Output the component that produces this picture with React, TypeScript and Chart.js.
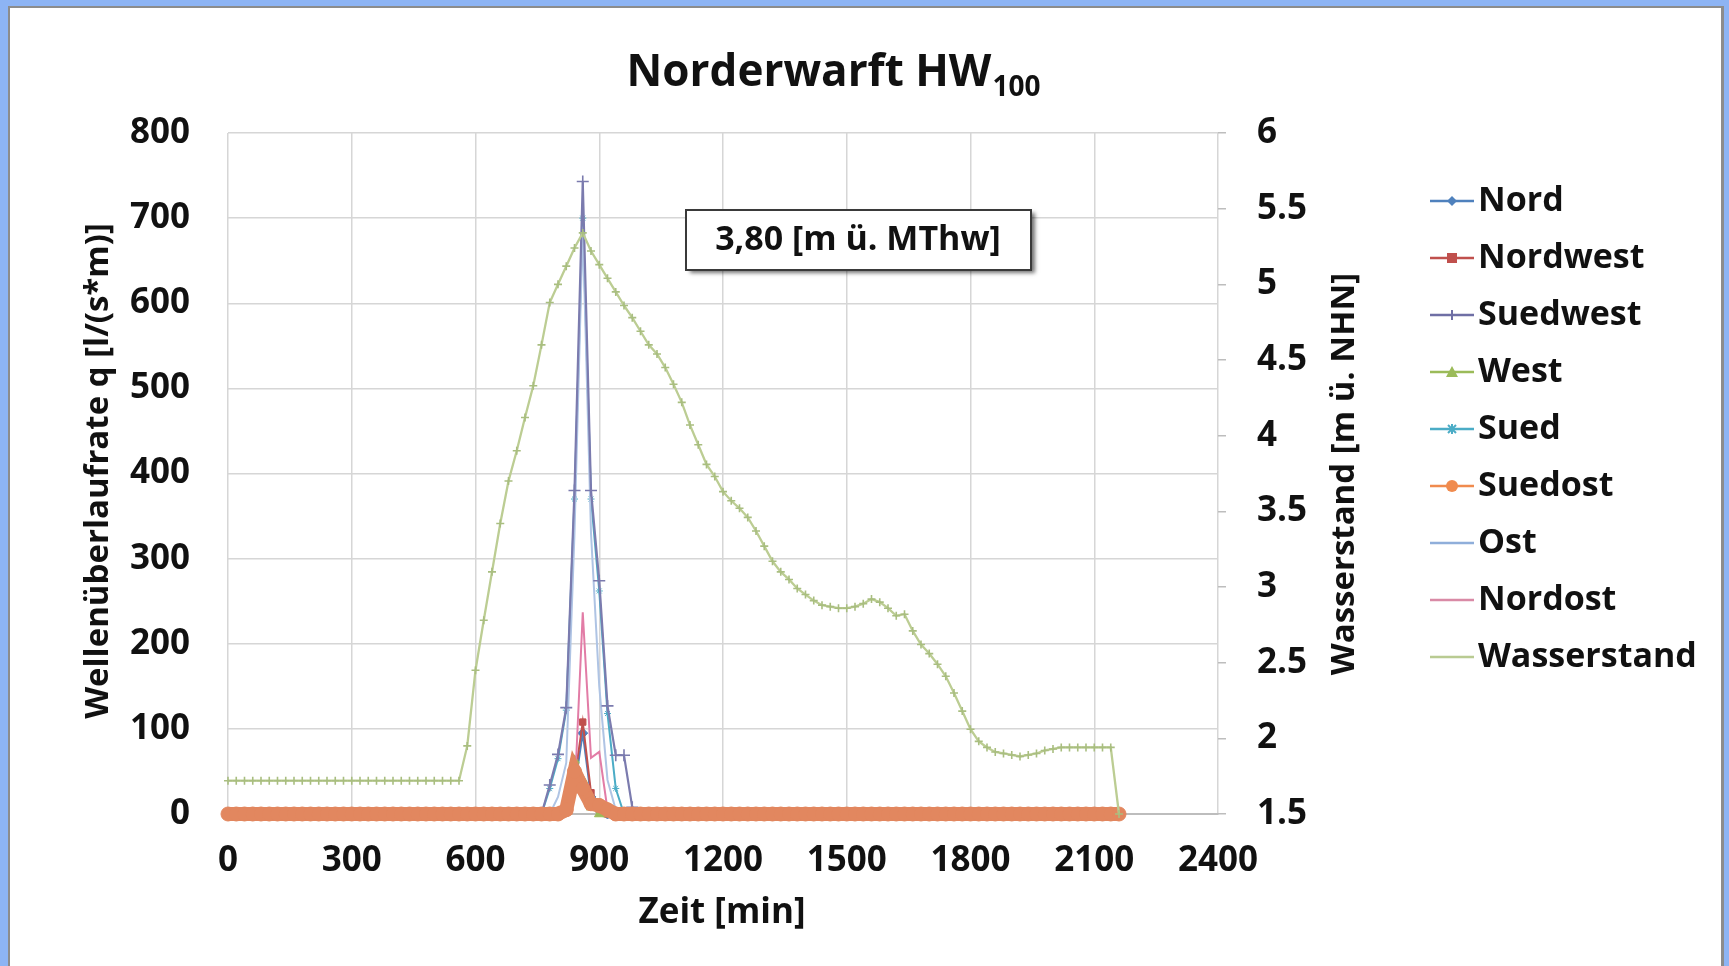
import React, { useEffect, useRef } from 'react';
import { Chart, registerables } from 'chart.js';

Chart.register(...registerables);

// ---------------- DATA ----------------
const chartTitle = 'Norderwarft HW';
const chartTitleSub = '100';
const xTitle = 'Zeit [min]';
const yLeftTitle = 'Wellenüberlaufrate q [l/(s*m)]';
const yRightTitle = 'Wasserstand [m ü. NHN]';
const annotationText = '3,80 [m ü. MThw]';

const xTicks = [0, 300, 600, 900, 1200, 1500, 1800, 2100, 2400];
const yLeftTicks = [0, 100, 200, 300, 400, 500, 600, 700, 800];
const yRightTicks = [1.5, 2, 2.5, 3, 3.5, 4, 4.5, 5, 5.5, 6];

const seriesNames = ['Nord', 'Nordwest', 'Suedwest', 'West', 'Sued', 'Suedost', 'Ost', 'Nordost', 'Wasserstand'];

// time [min]
const timeMin = [
  0, 20, 40, 60, 80, 100, 120, 140, 160, 180, 200, 220, 240, 260, 280, 300, 320, 340, 360, 380,
  400, 420, 440, 460, 480, 500, 520, 540, 560, 580, 600, 620, 640, 660, 680, 700, 720, 740, 760, 780,
  800, 820, 840, 860, 880, 900, 920, 940, 960, 980, 1000, 1020, 1040, 1060, 1080, 1100, 1120, 1140, 1160, 1180,
  1200, 1220, 1240, 1260, 1280, 1300, 1320, 1340, 1360, 1380, 1400, 1420, 1440, 1460, 1480, 1500, 1520, 1540, 1560, 1580,
  1600, 1620, 1640, 1660, 1680, 1700, 1720, 1740, 1760, 1780, 1800, 1820, 1840, 1860, 1880, 1900, 1920, 1940, 1960, 1980,
  2000, 2020, 2040, 2060, 2080, 2100, 2120, 2140, 2160,
];

const nord = [
  0, 0, 0, 0, 0, 0, 0, 0, 0, 0, 0, 0, 0, 0, 0, 0, 0, 0, 0, 0,
  0, 0, 0, 0, 0, 0, 0, 0, 0, 0, 0, 0, 0, 0, 0, 0, 0, 0, 0, 0,
  0, 5, 30, 95, 20, 5, 0, 0, 0, 0, 0, 0, 0, 0, 0, 0, 0, 0, 0, 0,
  0, 0, 0, 0, 0, 0, 0, 0, 0, 0, 0, 0, 0, 0, 0, 0, 0, 0, 0, 0,
  0, 0, 0, 0, 0, 0, 0, 0, 0, 0, 0, 0, 0, 0, 0, 0, 0, 0, 0, 0,
  0, 0, 0, 0, 0, 0, 0, 0, 0,
];

const nordwest = [
  0, 0, 0, 0, 0, 0, 0, 0, 0, 0, 0, 0, 0, 0, 0, 0, 0, 0, 0, 0,
  0, 0, 0, 0, 0, 0, 0, 0, 0, 0, 0, 0, 0, 0, 0, 0, 0, 0, 0, 0,
  0, 10, 40, 108, 25, 5, 0, 0, 0, 0, 0, 0, 0, 0, 0, 0, 0, 0, 0, 0,
  0, 0, 0, 0, 0, 0, 0, 0, 0, 0, 0, 0, 0, 0, 0, 0, 0, 0, 0, 0,
  0, 0, 0, 0, 0, 0, 0, 0, 0, 0, 0, 0, 0, 0, 0, 0, 0, 0, 0, 0,
  0, 0, 0, 0, 0, 0, 0, 0, 0,
];

const suedwest = [
  0, 0, 0, 0, 0, 0, 0, 0, 0, 0, 0, 0, 0, 0, 0, 0, 0, 0, 0, 0,
  0, 0, 0, 0, 0, 0, 0, 0, 0, 0, 0, 0, 0, 0, 0, 0, 0, 0, 0, 34,
  70, 125, 380, 743, 380, 274, 127, 69, 69, 8, 0, 0, 0, 0, 0, 0, 0, 0, 0, 0,
  0, 0, 0, 0, 0, 0, 0, 0, 0, 0, 0, 0, 0, 0, 0, 0, 0, 0, 0, 0,
  0, 0, 0, 0, 0, 0, 0, 0, 0, 0, 0, 0, 0, 0, 0, 0, 0, 0, 0, 0,
  0, 0, 0, 0, 0, 0, 0, 0, 0,
];

const west = [
  0, 0, 0, 0, 0, 0, 0, 0, 0, 0, 0, 0, 0, 0, 0, 0, 0, 0, 0, 0,
  0, 0, 0, 0, 0, 0, 0, 0, 0, 0, 0, 0, 0, 0, 0, 0, 0, 0, 0, 0,
  0, 15, 63, 40, 8, 0, 0, 0, 0, 0, 0, 0, 0, 0, 0, 0, 0, 0, 0, 0,
  0, 0, 0, 0, 0, 0, 0, 0, 0, 0, 0, 0, 0, 0, 0, 0, 0, 0, 0, 0,
  0, 0, 0, 0, 0, 0, 0, 0, 0, 0, 0, 0, 0, 0, 0, 0, 0, 0, 0, 0,
  0, 0, 0, 0, 0, 0, 0, 0, 0,
];

const sued = [
  0, 0, 0, 0, 0, 0, 0, 0, 0, 0, 0, 0, 0, 0, 0, 0, 0, 0, 0, 0,
  0, 0, 0, 0, 0, 0, 0, 0, 0, 0, 0, 0, 0, 0, 0, 0, 0, 0, 0, 30,
  65, 122, 370, 700, 370, 262, 118, 30, 0, 0, 0, 0, 0, 0, 0, 0, 0, 0, 0, 0,
  0, 0, 0, 0, 0, 0, 0, 0, 0, 0, 0, 0, 0, 0, 0, 0, 0, 0, 0, 0,
  0, 0, 0, 0, 0, 0, 0, 0, 0, 0, 0, 0, 0, 0, 0, 0, 0, 0, 0, 0,
  0, 0, 0, 0, 0, 0, 0, 0, 0,
];

const suedost = [
  0, 0, 0, 0, 0, 0, 0, 0, 0, 0, 0, 0, 0, 0, 0, 0, 0, 0, 0, 0,
  0, 0, 0, 0, 0, 0, 0, 0, 0, 0, 0, 0, 0, 0, 0, 0, 0, 0, 0, 0,
  0, 5, 50, 30, 12, 10, 5, 0, 0, 0, 0, 0, 0, 0, 0, 0, 0, 0, 0, 0,
  0, 0, 0, 0, 0, 0, 0, 0, 0, 0, 0, 0, 0, 0, 0, 0, 0, 0, 0, 0,
  0, 0, 0, 0, 0, 0, 0, 0, 0, 0, 0, 0, 0, 0, 0, 0, 0, 0, 0, 0,
  0, 0, 0, 0, 0, 0, 0, 0, 0,
];

const ost = [
  0, 0, 0, 0, 0, 0, 0, 0, 0, 0, 0, 0, 0, 0, 0, 0, 0, 0, 0, 0,
  0, 0, 0, 0, 0, 0, 0, 0, 0, 0, 0, 0, 0, 0, 0, 0, 0, 0, 0, 0,
  20, 60, 330, 690, 330, 150, 40, 5, 0, 0, 0, 0, 0, 0, 0, 0, 0, 0, 0, 0,
  0, 0, 0, 0, 0, 0, 0, 0, 0, 0, 0, 0, 0, 0, 0, 0, 0, 0, 0, 0,
  0, 0, 0, 0, 0, 0, 0, 0, 0, 0, 0, 0, 0, 0, 0, 0, 0, 0, 0, 0,
  0, 0, 0, 0, 0, 0, 0, 0, 0,
];

const nordost = [
  0, 0, 0, 0, 0, 0, 0, 0, 0, 0, 0, 0, 0, 0, 0, 0, 0, 0, 0, 0,
  0, 0, 0, 0, 0, 0, 0, 0, 0, 0, 0, 0, 0, 0, 0, 0, 0, 0, 0, 0,
  0, 5, 20, 237, 66, 73, 5, 0, 0, 0, 0, 0, 0, 0, 0, 0, 0, 0, 0, 0,
  0, 0, 0, 0, 0, 0, 0, 0, 0, 0, 0, 0, 0, 0, 0, 0, 0, 0, 0, 0,
  0, 0, 0, 0, 0, 0, 0, 0, 0, 0, 0, 0, 0, 0, 0, 0, 0, 0, 0, 0,
  0, 0, 0, 0, 0, 0, 0, 0, 0,
];

// water level [m ü. NHN]
const wasserstand = [
  1.72, 1.72, 1.72, 1.72, 1.72, 1.72, 1.72, 1.72, 1.72, 1.72, 1.72, 1.72, 1.72, 1.72, 1.72, 1.72, 1.72, 1.72, 1.72, 1.72,
  1.72, 1.72, 1.72, 1.72, 1.72, 1.72, 1.72, 1.72, 1.72, 1.95, 2.45, 2.78, 3.1, 3.42, 3.7, 3.9, 4.12, 4.33, 4.6, 4.88,
  5.0, 5.12, 5.24, 5.34, 5.22, 5.13, 5.04, 4.95, 4.86, 4.78, 4.69, 4.6, 4.54, 4.45, 4.34, 4.22, 4.07, 3.94, 3.81, 3.73,
  3.63, 3.57, 3.52, 3.46, 3.37, 3.27, 3.17, 3.1, 3.05, 2.99, 2.95, 2.91, 2.88, 2.87, 2.86, 2.86, 2.87, 2.89, 2.92, 2.9,
  2.86, 2.81, 2.82, 2.71, 2.62, 2.56, 2.49, 2.41, 2.3, 2.18, 2.06, 1.98, 1.94, 1.91, 1.9, 1.89, 1.88, 1.89, 1.9, 1.92,
  1.93, 1.94, 1.94, 1.94, 1.94, 1.94, 1.94, 1.94, 1.5,
];

const seriesValues = [nord, nordwest, suedwest, west, sued, suedost, ost, nordost, wasserstand];

// ---------------- STYLE ----------------
const FONT = '"Open Sans", "DejaVu Sans", sans-serif';
const TEXT = '#111111';
const W = 1729;
const H = 966;

type Style = {
  color: string;
  marker: string | false;
  radius: number;
  order: number;
  width: number;
  pointColor?: string;
};

const seriesStyles: Style[] = [
  { color: '#4F81BD', marker: 'rectRot', radius: 5, order: 7, width: 2 },
  { color: '#C0504D', marker: 'rect', radius: 4.5, order: 6, width: 2 },
  { color: '#7B7BAE', marker: 'cross', radius: 6, order: 2, width: 2.2 },
  { color: '#9BBB59', marker: 'triangle', radius: 5.5, order: 5, width: 2 },
  { color: '#4BACC6', marker: 'star', radius: 3.5, order: 9, width: 2 },
  { color: '#E2875F', marker: 'circle', radius: 7, order: 1, width: 14, pointColor: '#E2875F' },
  { color: '#AFC4E4', marker: false, radius: 0, order: 8, width: 2 },
  { color: '#E27CA6', marker: false, radius: 0, order: 3, width: 2 },
  { color: '#BCCD93', marker: 'cross', radius: 4, order: 0, width: 2.3, pointColor: '#A9BE80' },
];

const legendMarker = ['diamond', 'square', 'plus', 'triangle', 'star', 'circle', '', '', ''];
const legendLineColor = ['#4F81BD', '#C0504D', '#6F6FA5', '#9BBB59', '#4BACC6', '#F08B4E', '#8FAEDA', '#D98AA6', '#B9CB92'];

function drawLegendMarker(ctx: CanvasRenderingContext2D, kind: string, x: number, y: number, color: string) {
  ctx.save();
  ctx.fillStyle = color;
  ctx.strokeStyle = color;
  ctx.lineWidth = 2;
  ctx.beginPath();
  if (kind === 'diamond') {
    ctx.moveTo(x, y - 5); ctx.lineTo(x + 5, y); ctx.lineTo(x, y + 5); ctx.lineTo(x - 5, y); ctx.closePath(); ctx.fill();
  } else if (kind === 'square') {
    ctx.rect(x - 5, y - 5, 10, 10); ctx.fill();
  } else if (kind === 'plus') {
    ctx.moveTo(x, y - 5); ctx.lineTo(x, y + 5); ctx.moveTo(x - 5, y); ctx.lineTo(x + 5, y); ctx.stroke();
  } else if (kind === 'triangle') {
    ctx.moveTo(x, y - 6); ctx.lineTo(x + 6, y + 5); ctx.lineTo(x - 6, y + 5); ctx.closePath(); ctx.fill();
  } else if (kind === 'star') {
    ctx.moveTo(x - 4, y - 4); ctx.lineTo(x + 4, y + 4); ctx.moveTo(x + 4, y - 4); ctx.lineTo(x - 4, y + 4);
    ctx.moveTo(x, y - 5); ctx.lineTo(x, y + 5); ctx.stroke();
  } else if (kind === 'circle') {
    ctx.arc(x, y, 6, 0, Math.PI * 2); ctx.fill();
  }
  ctx.restore();
}

const decorPlugin = {
  id: 'decor',
  afterDraw(chart: any) {
    const ctx: CanvasRenderingContext2D = chart.ctx;
    ctx.save();
    ctx.fillStyle = TEXT;

    // title with subscript
    ctx.font = `bold 44px ${FONT}`;
    const w1 = ctx.measureText(chartTitle).width;
    ctx.font = `bold 28px ${FONT}`;
    const w2 = ctx.measureText(chartTitleSub).width;
    const tx = 833 - (w1 + w2) / 2;
    ctx.textBaseline = 'alphabetic';
    ctx.textAlign = 'left';
    ctx.font = `bold 44px ${FONT}`;
    ctx.fillText(chartTitle, tx, 86);
    ctx.font = `bold 28px ${FONT}`;
    ctx.fillText(chartTitleSub, tx + w1 + 1, 96);

    // axis titles
    ctx.textAlign = 'center';
    ctx.textBaseline = 'middle';
    ctx.font = `bold 35px ${FONT}`;
    ctx.fillText(xTitle, 722, 913);

    ctx.font = `bold 33px ${FONT}`;
    ctx.save();
    ctx.translate(99, 471);
    ctx.rotate(-Math.PI / 2);
    ctx.fillText(yLeftTitle, 0, 0);
    ctx.restore();

    ctx.save();
    ctx.translate(1345, 474);
    ctx.rotate(-Math.PI / 2);
    ctx.fillText(yRightTitle, 0, 0);
    ctx.restore();

    // annotation box
    ctx.save();
    ctx.shadowColor = 'rgba(0,0,0,0.55)';
    ctx.shadowBlur = 4;
    ctx.shadowOffsetX = 4;
    ctx.shadowOffsetY = 3;
    ctx.fillStyle = '#ffffff';
    ctx.fillRect(686, 210, 345, 60);
    ctx.restore();
    ctx.strokeStyle = '#3a3a3a';
    ctx.lineWidth = 2;
    ctx.strokeRect(686, 210, 345, 60);
    ctx.fillStyle = TEXT;
    ctx.font = `bold 34px ${FONT}`;
    ctx.fillText(annotationText, 858, 240);

    // legend
    ctx.textAlign = 'left';
    ctx.textBaseline = 'middle';
    ctx.font = `bold 34px ${FONT}`;
    seriesNames.forEach((name, i) => {
      const y = 201 + i * 57;
      ctx.strokeStyle = legendLineColor[i];
      ctx.lineWidth = 2.5;
      ctx.beginPath();
      ctx.moveTo(1430, y);
      ctx.lineTo(1474, y);
      ctx.stroke();
      if (legendMarker[i]) drawLegendMarker(ctx, legendMarker[i], 1452, y, legendLineColor[i]);
      ctx.fillStyle = TEXT;
      ctx.fillText(name, 1478, y);
    });
    ctx.restore();
  },
};

export default function App() {
  const ref = useRef<HTMLCanvasElement>(null);

  useEffect(() => {
    const canvas = ref.current;
    if (!canvas) return;
    const datasets = seriesNames.map((name, i) => {
      const st = seriesStyles[i];
      const vals = seriesValues[i];
      return {
        label: name,
        data: timeMin.map((t, k) => ({ x: t, y: vals[k] })),
        yAxisID: i === 8 ? 'y2' : 'y',
        borderColor: st.color,
        backgroundColor: st.pointColor || st.color,
        borderWidth: st.width,
        pointStyle: st.marker === false ? false : st.marker,
        pointRadius: st.radius,
        pointBorderColor: st.pointColor || st.color,
        pointBackgroundColor: st.pointColor || st.color,
        pointBorderWidth: st.marker === 'cross' ? 1.6 : 1,
        tension: 0,
        fill: false,
        clip: false,
        order: st.order,
      };
    });

    const tickFont = { family: FONT, size: 35, weight: 'bold' as const };

    const chart = new Chart(canvas, {
      type: 'line',
      data: { datasets: datasets as any },
      plugins: [decorPlugin],
      options: {
        animation: false,
        responsive: false,
        devicePixelRatio: 1,
        events: [],
        layout: { padding: { top: 133, left: 0, right: 0, bottom: 0 } },
        plugins: {
          legend: { display: false },
          title: { display: false },
          tooltip: { enabled: false },
        },
        scales: {
          x: {
            type: 'linear',
            min: xTicks[0],
            max: xTicks[xTicks.length - 1],
            afterBuildTicks: (s: any) => { s.ticks = xTicks.map((v) => ({ value: v })); },
            afterFit: (s: any) => { s.height = H - 814; },
            ticks: { font: tickFont, color: TEXT, padding: 26, autoSkip: false, maxRotation: 0, callback: (v: any) => String(v) },
            grid: { color: '#D6D6D6', lineWidth: 1.5, drawTicks: false },
            border: { display: true, color: '#BDBDBD', width: 2 },
          },
          y: {
            type: 'linear',
            position: 'left',
            min: yLeftTicks[0],
            max: yLeftTicks[yLeftTicks.length - 1],
            afterBuildTicks: (s: any) => { s.ticks = yLeftTicks.map((v) => ({ value: v })); },
            afterFit: (s: any) => { s.width = 228; },
            ticks: { font: tickFont, color: TEXT, padding: 38, callback: (v: any) => String(v) },
            grid: { color: '#D6D6D6', lineWidth: 1.5, drawTicks: false },
            border: { display: false },
          },
          y2: {
            type: 'linear',
            position: 'right',
            min: yRightTicks[0],
            max: yRightTicks[yRightTicks.length - 1],
            afterBuildTicks: (s: any) => { s.ticks = yRightTicks.map((v) => ({ value: v })); },
            afterFit: (s: any) => { s.width = W - 1218; },
            ticks: { font: tickFont, color: TEXT, padding: 31, callback: (v: any) => String(v) },
            grid: { drawOnChartArea: false, drawTicks: true, tickLength: 8, color: '#BDBDBD', lineWidth: 1.5 },
            border: { display: false },
          },
        },
      },
    });
    return () => chart.destroy();
  }, []);

  return (
    <div style={{ position: 'fixed', left: 0, top: 0, width: W, height: H, background: '#8DB4F4', overflow: 'hidden' }}>
      <div
        style={{
          position: 'absolute',
          left: 8,
          top: 6,
          width: 1716,
          height: H + 10,
          background: '#ffffff',
          borderLeft: '2px solid #8c8c8c',
          borderTop: '2px solid #8c8c8c',
          borderRight: '3px solid #8c8c8c',
          boxSizing: 'border-box',
        }}
      />
      <canvas ref={ref} width={W} height={H} style={{ position: 'absolute', left: 0, top: 0, width: W, height: H }} />
    </div>
  );
}
